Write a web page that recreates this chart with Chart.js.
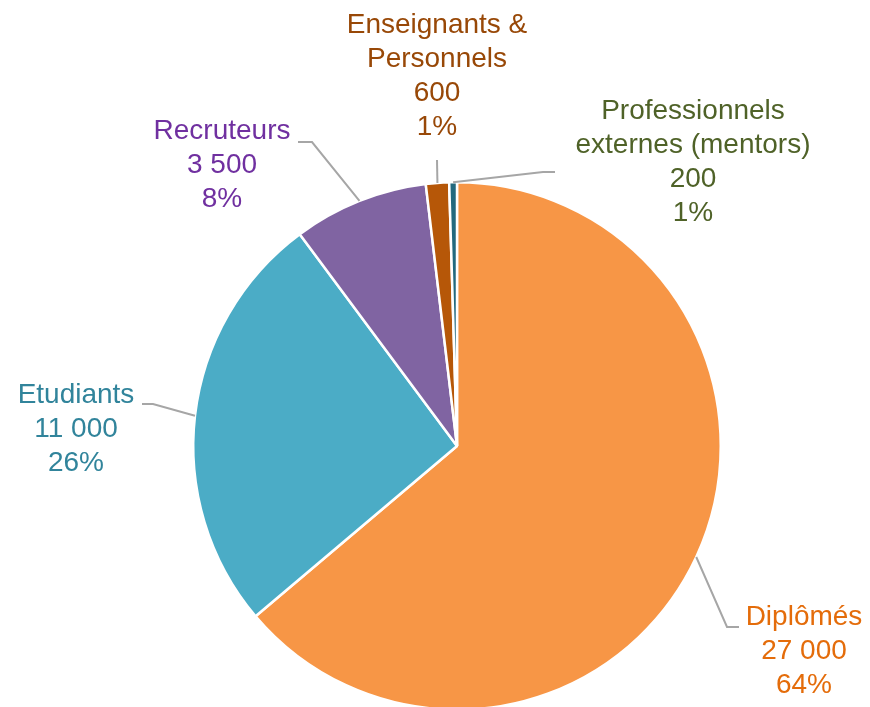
<!DOCTYPE html>
<html>
<head>
<meta charset="utf-8">
<script src="https://cdn.jsdelivr.net/npm/chart.js@4"></script>
<style>
  html, body { margin: 0; padding: 0; background: #fff; overflow: hidden; }
  #pieChart { display: block; }
</style>
</head>
<body>
<canvas id="pieChart" width="870" height="711"></canvas>
<script>
// Data
const categories = ['Diplômés', 'Etudiants', 'Recruteurs', 'Enseignants & Personnels', 'Professionnels externes (mentors)'];
const categoryLines = [['Diplômés'], ['Etudiants'], ['Recruteurs'], ['Enseignants &', 'Personnels'], ['Professionnels', 'externes (mentors)']];
const values = [27000, 11000, 3500, 600, 200];
const percentLabels = ['64%', '26%', '8%', '1%', '1%'];

// Styles
const sliceColors = ['#F79646', '#4BACC6', '#8064A2', '#B65708', '#23697E'];
const textColors = ['#E46C0A', '#31849B', '#7030A0', '#984807', '#4F6228'];

// label placement: text centre x, first line y, elbow and end of the leader line
const labelLayout = [
    { x: 804, y: 617, elbow: [727, 627], end: [739, 627] },
    { x: 76, y: 395, elbow: [153, 404], end: [142, 404] },
    { x: 222, y: 131, elbow: [312, 142], end: [298, 142] },
    { x: 437, y: 25, elbow: [437, 160], end: [437, 160] },
    { x: 693, y: 111, elbow: [543, 172], end: [555, 172] }
];

function fmt(v) {
    return String(v).replace(/\B(?=(\d{3})+(?!\d))/g, ' ');
}

const labelPlugin = {
    id: 'pieLabels',
    afterDraw(chart) {
        const ctx = chart.ctx;
        const meta = chart.getDatasetMeta(0);
        ctx.save();
        meta.data.forEach((arc, i) => {
            const p = arc.getProps(['x', 'y', 'startAngle', 'endAngle', 'outerRadius']);
            const mid = (p.startAngle + p.endAngle) / 2;
            const sx = p.x + Math.cos(mid) * p.outerRadius;
            const sy = p.y + Math.sin(mid) * p.outerRadius;
            const L = labelLayout[i];
            ctx.strokeStyle = '#A6A6A6';
            ctx.lineWidth = 2;
            ctx.beginPath();
            ctx.moveTo(sx, sy);
            ctx.lineTo(L.elbow[0], L.elbow[1]);
            ctx.lineTo(L.end[0], L.end[1]);
            ctx.stroke();

            const lines = categoryLines[i].concat([fmt(values[i]), percentLabels[i]]);
            ctx.fillStyle = textColors[i];
            ctx.font = '28px "Liberation Sans", Arial, sans-serif';
            ctx.textAlign = 'center';
            ctx.textBaseline = 'middle';
            lines.forEach((t, j) => {
                ctx.fillText(t, L.x, L.y + j * 34);
            });
        });
        ctx.restore();
    }
};

const ctxPie = document.getElementById('pieChart').getContext('2d');
new Chart(ctxPie, {
    type: 'pie',
    data: {
        labels: categories,
        datasets: [{
            data: values,
            backgroundColor: sliceColors,
            borderColor: '#ffffff',
            borderWidth: 2.5
        }]
    },
    options: {
        responsive: false,
        animation: false,
        events: [],
        layout: {
            padding: { left: 192, right: 148, top: 181, bottom: 0 }
        },
        plugins: {
            legend: { display: false },
            tooltip: { enabled: false }
        }
    },
    plugins: [labelPlugin]
});
</script>
</body>
</html>
